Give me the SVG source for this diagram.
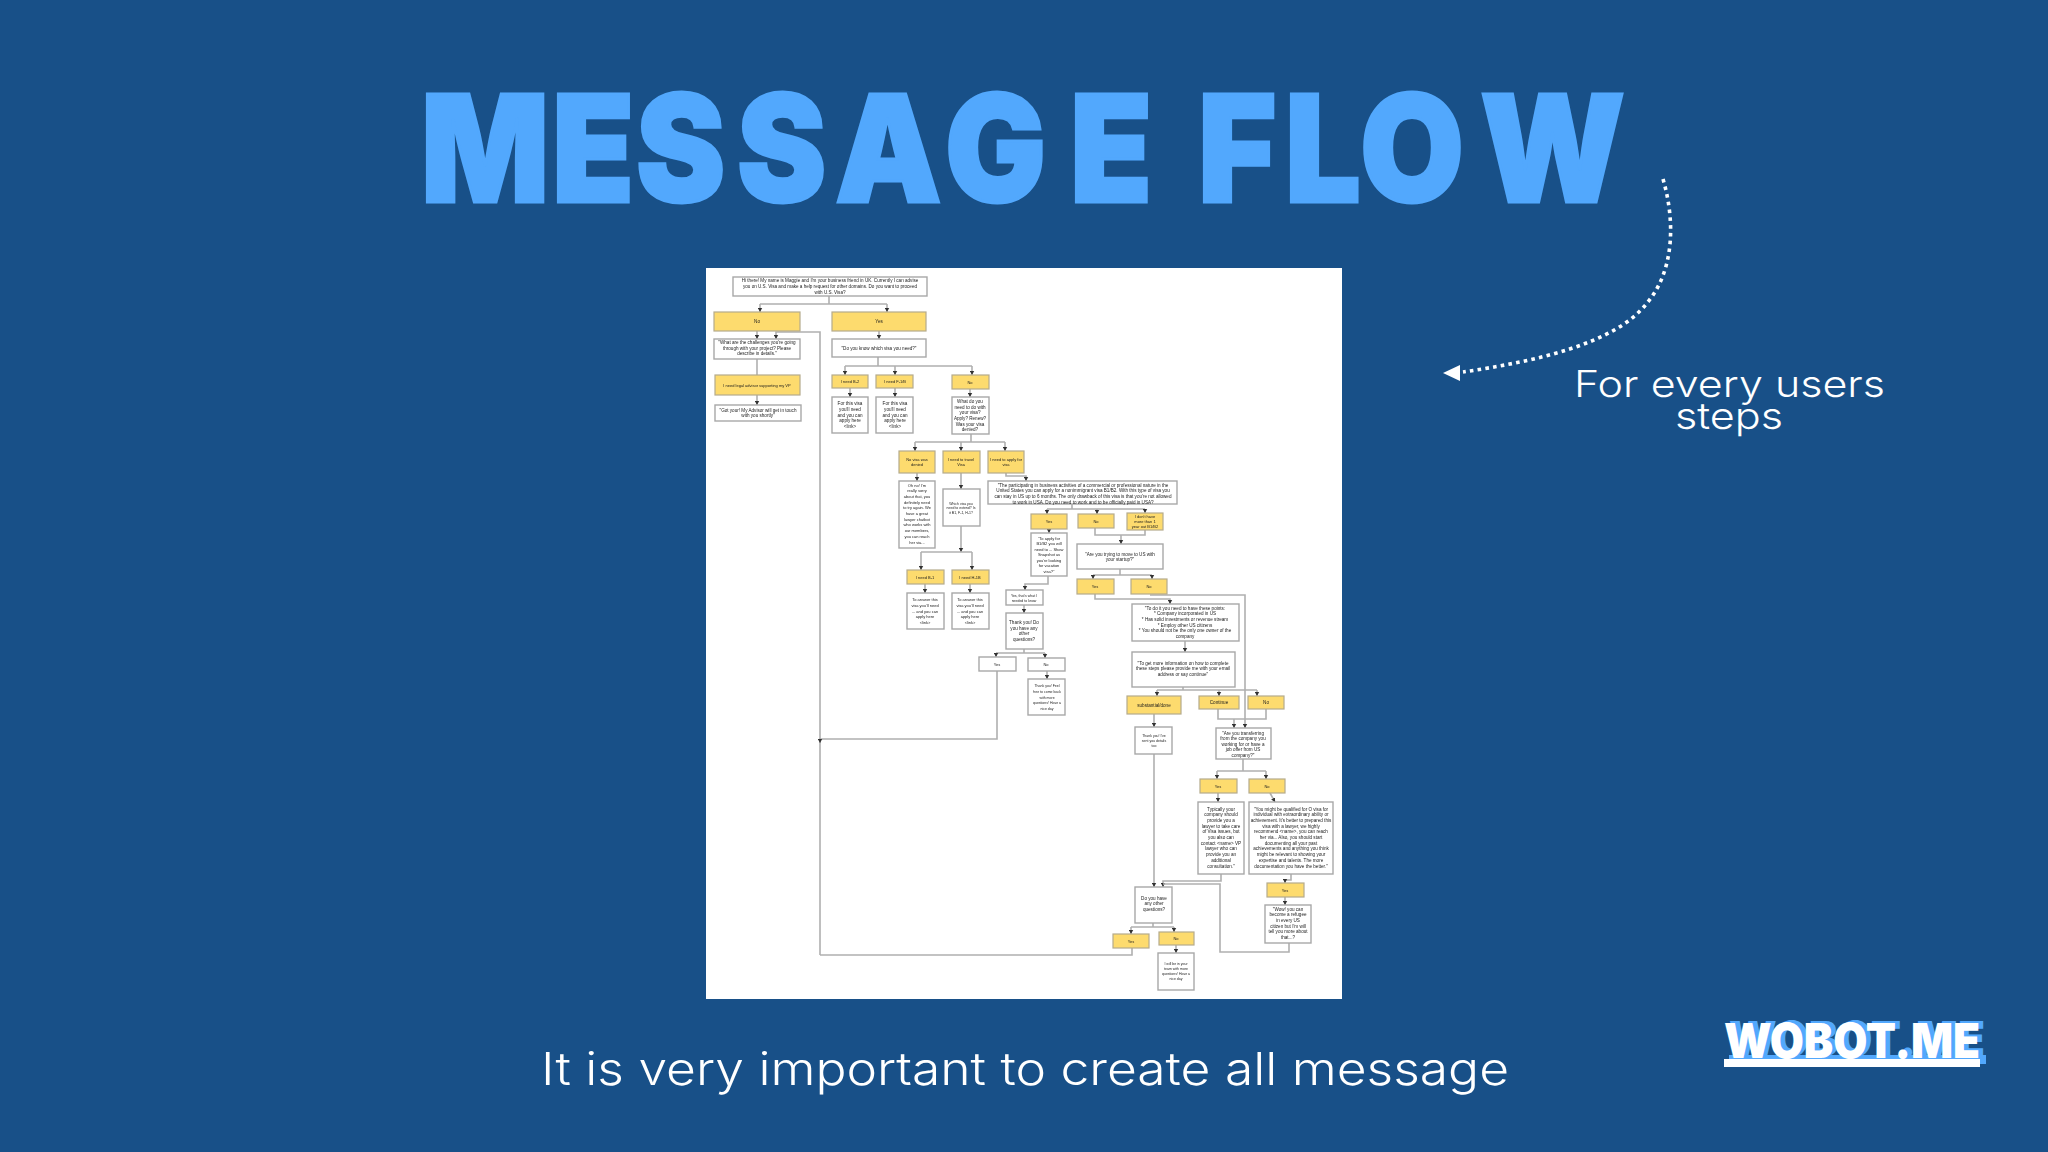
<svg xmlns="http://www.w3.org/2000/svg" width="2048" height="1152" viewBox="0 0 2048 1152">
<style>
.t{font-family:"Liberation Sans",Arial,sans-serif;font-size:4.6px;fill:#1c1c1c;text-anchor:middle}
.s{font-size:4px}
.box{fill:#fff;stroke:#a8a8a8;stroke-width:1.4}
.yel{fill:#fddb6e;stroke:#b5ab8c;stroke-width:1.2}
.c{fill:none;stroke:#b0b0b0;stroke-width:1.6}
.a{marker-end:url(#ah)}
.body{font-family:Inter,"Open Sans",sans-serif;font-weight:300;fill:#fff}
</style>
<defs>
<marker id="ah" markerUnits="userSpaceOnUse" markerWidth="5" markerHeight="5" refX="4" refY="2.5" orient="auto"><path d="M0 .3L4 2.5L0 4.7z" fill="#333"/></marker>
<filter id="soft" filterUnits="userSpaceOnUse" x="700" y="260" width="650" height="745"><feGaussianBlur stdDeviation="0.65"/></filter>
</defs>
<rect id="background" width="2048" height="1152" fill="#185088"/>
<text id="title" transform="scale(.9 1)" x="467.8 613.3 706.7 818.9 927.8 1050 1188.9 1311 1331 1427.8 1511 1644.4" y="202" font-family="Inter,Roboto,sans-serif" font-weight="900" font-size="149" fill="#52a8fd" stroke="#52a8fd" stroke-width="3">MESSAGE FLOW</text>
<rect id="panel" x="706" y="268" width="636" height="731" fill="#fff"/>
<g id="flowchart" filter="url(#soft)">
<g id="connectors">
<path class="c" d="M829 296V304M760 304H887"/><path class="c a" d="M760 304V312"/><path class="c a" d="M887 304V312"/>
<path class="c a" d="M757 331V339"/>
<path class="c a" d="M820 955V332H776V339"/>
<path class="c" d="M1132 948V955H820"/>
<path class="c a" d="M997 671V739H820V743"/>
<path class="c" d="M757 359V375"/><path class="c a" d="M757 395V405"/>
<path class="c a" d="M879 331V339"/>
<path class="c" d="M878 357V366M845 366H972"/><path class="c a" d="M845 366V375"/><path class="c a" d="M895 366V375"/><path class="c a" d="M972 366V375"/>
<path class="c a" d="M850 388V397"/><path class="c a" d="M895 388V397"/><path class="c a" d="M970 389V397"/>
<path class="c" d="M971 434V442M915 442H1005"/><path class="c a" d="M915 442V451"/><path class="c a" d="M961 442V451"/><path class="c a" d="M1005 442V451"/>
<path class="c a" d="M917 473V481"/><path class="c a" d="M961 473V489"/>
<path class="c a" d="M1006 473V476H1026V481"/>
<path class="c a" d="M961 526V552"/><path class="c" d="M921 552H972"/><path class="c a" d="M921 552V570"/><path class="c a" d="M972 552V570"/>
<path class="c a" d="M925 584V593"/><path class="c a" d="M970 584V593"/>
<path class="c" d="M1072 504V509M1047 509H1145"/><path class="c a" d="M1047 509V514"/><path class="c a" d="M1097 509V514"/><path class="c a" d="M1145 509V513"/>
<path class="c a" d="M1049 529V533"/>
<path class="c" d="M1095 528V535H1145V530"/><path class="c a" d="M1121 535V544"/>
<path class="c" d="M1120 569V575M1093 575H1152"/><path class="c a" d="M1093 575V579"/><path class="c a" d="M1152 575V579"/>
<path class="c a" d="M1048 576V584H1025V590"/>
<path class="c a" d="M1024 605V613"/>
<path class="c" d="M1024 649V653M996 653H1045"/><path class="c a" d="M996 653V657"/><path class="c a" d="M1045 653V658"/>
<path class="c a" d="M1047 671V679"/>
<path class="c a" d="M1095 594V599H1170V604"/>
<path class="c a" d="M1150 595H1245V728"/>
<path class="c a" d="M1185 641V652"/>
<path class="c" d="M1183 687V690M1157 690H1257"/><path class="c a" d="M1157 690V696"/><path class="c a" d="M1219 690V696"/><path class="c a" d="M1257 690V696"/>
<path class="c a" d="M1154 714V727"/>
<path class="c" d="M1218 709V719H1266V709"/><path class="c a" d="M1234 719V728"/>
<path class="c" d="M1243 759V771M1217 771H1266"/><path class="c a" d="M1217 771V779"/><path class="c a" d="M1266 771V779"/>
<path class="c a" d="M1218 793V802"/><path class="c a" d="M1270 793L1275 802"/>
<path class="c a" d="M1291 874V880H1285V883"/>
<path class="c a" d="M1285 897V905"/>
<path class="c a" d="M1154 754V887"/>
<path class="c a" d="M1221 874V881H1163V887"/>
<path class="c" d="M1163 884H1220V952H1289V943"/>
<path class="c" d="M1153 923V927M1131 927H1174"/><path class="c a" d="M1131 927V934"/><path class="c a" d="M1174 927V932"/>
<path class="c a" d="M1176 945V953"/>
</g>
<g id="n1"><rect class="box" x="733" y="277" width="194" height="19"/><text class="t" y="282.3"><tspan x="830">Hi there! My name is Maggie and I'm your business friend in UK. Currently I can advise</tspan><tspan x="830" dy="5.7">you on U.S. Visa and make a help request for other domains. Do you want to proceed</tspan><tspan x="830" dy="5.7">with U.S. Visa?</tspan></text></g>
<g id="n2"><rect class="yel" x="714" y="312" width="86" height="19"/><text class="t" x="757" y="323">No</text></g>
<g id="n3"><rect class="yel" x="832" y="312" width="94" height="19"/><text class="t" x="879" y="323">Yes</text></g>
<g id="n4"><rect class="box" x="714" y="339" width="86" height="20"/><text class="t" y="343.8"><tspan x="757">"What are the challenges you're going</tspan><tspan x="757" dy="5.7">through with your project? Please</tspan><tspan x="757" dy="5.7">describe in details."</tspan></text></g>
<g id="n5"><rect class="yel" x="715" y="375" width="85" height="20"/><text class="t s" x="757" y="386.5">I need legal advisor supporting my VP</text></g>
<g id="n6"><rect class="box" x="715" y="405" width="86" height="16"/><text class="t" y="411.7"><tspan x="758">"Got your! My Advisor will get in touch</tspan><tspan x="758" dy="5.7">with you shortly"</tspan></text></g>
<g id="n7"><rect class="box" x="832" y="339" width="94" height="18"/><text class="t" x="879" y="349.5">"Do you know which visa you need?"</text></g>
<g id="n8"><rect class="yel" x="832" y="375" width="36" height="13"/><text class="t s" x="850" y="383">I need B-2</text></g>
<g id="n9"><rect class="yel" x="876" y="375" width="37" height="13"/><text class="t s" x="895" y="383">I need F-1/B</text></g>
<g id="n10"><rect class="yel" x="952" y="375" width="37" height="14"/><text class="t s" x="970" y="383.5">No</text></g>
<g id="n11"><rect class="box" x="832" y="397" width="36" height="36"/><text class="t" y="405.1"><tspan x="850">For this visa</tspan><tspan x="850" dy="5.7">you'll need</tspan><tspan x="850" dy="5.7">and you can</tspan><tspan x="850" dy="5.7">apply here</tspan><tspan x="850" dy="5.7">&lt;link&gt;</tspan></text></g>
<g id="n12"><rect class="box" x="876" y="397" width="37" height="36"/><text class="t" y="405.1"><tspan x="895">For this visa</tspan><tspan x="895" dy="5.7">you'll need</tspan><tspan x="895" dy="5.7">and you can</tspan><tspan x="895" dy="5.7">apply here</tspan><tspan x="895" dy="5.7">&lt;link&gt;</tspan></text></g>
<g id="n13"><rect class="box" x="952" y="397" width="37" height="37"/><text class="t" y="402.8"><tspan x="970">What do you</tspan><tspan x="970" dy="5.7">need to do with</tspan><tspan x="970" dy="5.7">your visa?</tspan><tspan x="970" dy="5.7">Apply? Renew?</tspan><tspan x="970" dy="5.7">Was your visa</tspan><tspan x="970" dy="5.7">denied?</tspan></text></g>
<g id="n14"><rect class="yel" x="899" y="451" width="36" height="22"/><text class="t s" y="460.6"><tspan x="917">No visa was</tspan><tspan x="917" dy="5">denied</tspan></text></g>
<g id="n15"><rect class="yel" x="943" y="451" width="37" height="22"/><text class="t s" y="460.6"><tspan x="961">I need to travel</tspan><tspan x="961" dy="5">Visa</tspan></text></g>
<g id="n16"><rect class="yel" x="988" y="451" width="36" height="22"/><text class="t s" y="460.6"><tspan x="1006">I need to apply for</tspan><tspan x="1006" dy="5">visa</tspan></text></g>
<g id="n17"><rect class="box" x="899" y="481" width="36" height="67"/><text class="t s" y="486.5"><tspan x="917">Oh no! I'm</tspan><tspan x="917" dy="5.7">really sorry</tspan><tspan x="917" dy="5.7">about that, you</tspan><tspan x="917" dy="5.7">definitely need</tspan><tspan x="917" dy="5.7">to try again. We</tspan><tspan x="917" dy="5.7">have a great</tspan><tspan x="917" dy="5.7">lawyer chatbot</tspan><tspan x="917" dy="5.7">who works with</tspan><tspan x="917" dy="5.7">our members,</tspan><tspan x="917" dy="5.7">you can reach</tspan><tspan x="917" dy="5.7">her via...</tspan></text></g>
<g id="n18"><rect class="box" x="943" y="489" width="37" height="37"/><text class="t s" y="504.5" style="font-size:3.5px"><tspan x="961">Which visa you</tspan><tspan x="961" dy="4.5">need to extend? Is</tspan><tspan x="961" dy="4.5">it B1, F-1, H-1?</tspan></text></g>
<g id="n19"><rect class="box" x="988" y="481" width="189" height="23"/><text class="t" y="486.5"><tspan x="1083">"The participating in business activities of a commercial or professional nature in the</tspan><tspan x="1083" dy="5.7">United States you can apply for a nonimmigrant visa B1/B2. With this type of visa you</tspan><tspan x="1083" dy="5.7">can stay in US up to 6 months. The only drawback of this visa is that you're not allowed</tspan><tspan x="1083" dy="5.7">to work in USA. Do you need to work and to be officially paid in USA?</tspan></text></g>
<g id="n20"><rect class="yel" x="1031" y="514" width="36" height="15"/><text class="t s" x="1049" y="523">Yes</text></g>
<g id="n21"><rect class="yel" x="1078" y="514" width="36" height="14"/><text class="t s" x="1096" y="522.5">No</text></g>
<g id="n22"><rect class="yel" x="1127" y="513" width="36" height="17"/><text class="t s" y="517.5"><tspan x="1145">I don't have</tspan><tspan x="1145" dy="5">more than 1</tspan><tspan x="1145" dy="5">year out B1/B2</tspan></text></g>
<g id="n23"><rect class="box" x="1031" y="533" width="36" height="43"/><text class="t s" y="539.5"><tspan x="1049">"To apply for</tspan><tspan x="1049" dy="5.5">B1/B2 you will</tspan><tspan x="1049" dy="5.5">need to ... Show</tspan><tspan x="1049" dy="5.5">Snapshot as</tspan><tspan x="1049" dy="5.5">you're looking</tspan><tspan x="1049" dy="5.5">for vacation</tspan><tspan x="1049" dy="5.5">visa?"</tspan></text></g>
<g id="n24"><rect class="box" x="1077" y="544" width="86" height="25"/><text class="t" y="555.6"><tspan x="1120">"Are you trying to move to US with</tspan><tspan x="1120" dy="5.7">your startup?"</tspan></text></g>
<g id="n25"><rect class="yel" x="1077" y="579" width="37" height="15"/><text class="t s" x="1095" y="588">Yes</text></g>
<g id="n26"><rect class="yel" x="1131" y="579" width="36" height="15"/><text class="t s" x="1149" y="588">No</text></g>
<g id="n27"><rect class="yel" x="907" y="570" width="37" height="14"/><text class="t s" x="925" y="578.5">I need B-1</text></g>
<g id="n28"><rect class="yel" x="952" y="570" width="37" height="14"/><text class="t s" x="970" y="578.5">I need H-1B</text></g>
<g id="n29"><rect class="box" x="907" y="593" width="37" height="36"/><text class="t s" y="601.1"><tspan x="925">To answer this</tspan><tspan x="925" dy="5.7">visa you'll need</tspan><tspan x="925" dy="5.7">... and you can</tspan><tspan x="925" dy="5.7">apply here</tspan><tspan x="925" dy="5.7">&lt;link&gt;</tspan></text></g>
<g id="n30"><rect class="box" x="952" y="593" width="37" height="36"/><text class="t s" y="601.1"><tspan x="970">To answer this</tspan><tspan x="970" dy="5.7">visa you'll need</tspan><tspan x="970" dy="5.7">... and you can</tspan><tspan x="970" dy="5.7">apply here</tspan><tspan x="970" dy="5.7">&lt;link&gt;</tspan></text></g>
<g id="n31"><rect class="box" x="1006" y="590" width="37" height="15"/><text class="t s" y="596.6" style="font-size:3.5px"><tspan x="1024">Yes, that's what I</tspan><tspan x="1024" dy="5">needed to know</tspan></text></g>
<g id="n32"><rect class="box" x="1006" y="613" width="37" height="36"/><text class="t" y="624"><tspan x="1024">Thank you! Do</tspan><tspan x="1024" dy="5.7">you have any</tspan><tspan x="1024" dy="5.7">other</tspan><tspan x="1024" dy="5.7">questions?</tspan></text></g>
<g id="n33"><rect class="box" x="979" y="657" width="37" height="14"/><text class="t s" x="997" y="665.5">Yes</text></g>
<g id="n34"><rect class="box" x="1028" y="658" width="37" height="13"/><text class="t s" x="1046" y="666">No</text></g>
<g id="n35"><rect class="box" x="1028" y="679" width="37" height="36"/><text class="t s" y="687.1" style="font-size:3.5px"><tspan x="1047">Thank you! Feel</tspan><tspan x="1047" dy="5.7">free to come back</tspan><tspan x="1047" dy="5.7">with more</tspan><tspan x="1047" dy="5.7">questions! Have a</tspan><tspan x="1047" dy="5.7">nice day</tspan></text></g>
<g id="n36"><rect class="box" x="1132" y="604" width="107" height="37"/><text class="t" y="609.5"><tspan x="1185">"To do it you need to have these points:</tspan><tspan x="1185" dy="5.7">* Company incorporated in US</tspan><tspan x="1185" dy="5.7">* Has solid investments or revenue stream</tspan><tspan x="1185" dy="5.7">* Employ other US citizens</tspan><tspan x="1185" dy="5.7">* You should not be the only one owner of the</tspan><tspan x="1185" dy="5.7">company</tspan></text></g>
<g id="n37"><rect class="box" x="1132" y="652" width="103" height="35"/><text class="t" y="664.5"><tspan x="1183">"To get more information on how to complete</tspan><tspan x="1183" dy="5.7">these steps please provide me with your email</tspan><tspan x="1183" dy="5.7">address or say continue"</tspan></text></g>
<g id="n38"><rect class="yel" x="1127" y="696" width="54" height="18"/><text class="t" x="1154" y="706.5">substantial/done</text></g>
<g id="n39"><rect class="yel" x="1199" y="696" width="40" height="13"/><text class="t" x="1219" y="704">Continue</text></g>
<g id="n40"><rect class="yel" x="1248" y="696" width="36" height="13"/><text class="t" x="1266" y="704">No</text></g>
<g id="n41"><rect class="box" x="1135" y="727" width="37" height="27"/><text class="t s" y="736.5" style="font-size:3.5px"><tspan x="1154">Thank you! I've</tspan><tspan x="1154" dy="5">sent you details</tspan><tspan x="1154" dy="5">too</tspan></text></g>
<g id="n42"><rect class="box" x="1216" y="728" width="55" height="31"/><text class="t" y="734.5"><tspan x="1243">"Are you transferring</tspan><tspan x="1243" dy="5.5">from the company you</tspan><tspan x="1243" dy="5.5">working for or have a</tspan><tspan x="1243" dy="5.5">job offer from US</tspan><tspan x="1243" dy="5.5">company?"</tspan></text></g>
<g id="n43"><rect class="yel" x="1200" y="779" width="37" height="14"/><text class="t s" x="1218" y="787.5">Yes</text></g>
<g id="n44"><rect class="yel" x="1249" y="779" width="36" height="14"/><text class="t s" x="1267" y="787.5">No</text></g>
<g id="n45"><rect class="box" x="1198" y="802" width="46" height="72"/><text class="t" y="810.5"><tspan x="1221">Typically your</tspan><tspan x="1221" dy="5.7">company should</tspan><tspan x="1221" dy="5.7">provide you a</tspan><tspan x="1221" dy="5.7">lawyer to take care</tspan><tspan x="1221" dy="5.7">of Visa issues, but</tspan><tspan x="1221" dy="5.7">you also can</tspan><tspan x="1221" dy="5.7">contact &lt;name&gt; VP</tspan><tspan x="1221" dy="5.7">lawyer who can</tspan><tspan x="1221" dy="5.7">provide you an</tspan><tspan x="1221" dy="5.7">additional</tspan><tspan x="1221" dy="5.7">consultation."</tspan></text></g>
<g id="n46"><rect class="box" x="1249" y="802" width="84" height="72"/><text class="t" y="810.5"><tspan x="1291">"You might be qualified for O visa for</tspan><tspan x="1291" dy="5.7">individual with extraordinary ability or</tspan><tspan x="1291" dy="5.7">achievement. It's better to prepared this</tspan><tspan x="1291" dy="5.7">visa with a lawyer, we highly</tspan><tspan x="1291" dy="5.7">recommend &lt;name&gt;, you can reach</tspan><tspan x="1291" dy="5.7">her via... Also, you should start</tspan><tspan x="1291" dy="5.7">documenting all your past</tspan><tspan x="1291" dy="5.7">achievements and anything you think</tspan><tspan x="1291" dy="5.7">might be relevant to showing your</tspan><tspan x="1291" dy="5.7">expertise and talents. The more</tspan><tspan x="1291" dy="5.7">documentation you have the better."</tspan></text></g>
<g id="n47"><rect class="yel" x="1267" y="883" width="37" height="14"/><text class="t s" x="1285" y="891.5">Yes</text></g>
<g id="n48"><rect class="box" x="1265" y="905" width="46" height="38"/><text class="t" y="910.5"><tspan x="1288">"Wow! you can</tspan><tspan x="1288" dy="5.7">become a refugee</tspan><tspan x="1288" dy="5.7">in every US</tspan><tspan x="1288" dy="5.7">citizen but I'm will</tspan><tspan x="1288" dy="5.7">tell you more about</tspan><tspan x="1288" dy="5.7">that...?</tspan></text></g>
<g id="n49"><rect class="box" x="1135" y="887" width="37" height="36"/><text class="t" y="899.5"><tspan x="1154">Do you have</tspan><tspan x="1154" dy="5.7">any other</tspan><tspan x="1154" dy="5.7">questions?</tspan></text></g>
<g id="n50"><rect class="yel" x="1113" y="934" width="36" height="14"/><text class="t s" x="1131" y="942.5">Yes</text></g>
<g id="n51"><rect class="yel" x="1159" y="932" width="35" height="13"/><text class="t s" x="1176" y="940">No</text></g>
<g id="n52"><rect class="box" x="1158" y="953" width="36" height="37"/><text class="t s" y="964.5" style="font-size:3.5px"><tspan x="1176">I will be in your</tspan><tspan x="1176" dy="5">team with more</tspan><tspan x="1176" dy="5">questions! Have a</tspan><tspan x="1176" dy="5">nice day</tspan></text></g>
</g>
<g id="callout">
<path d="M1663 179C1675 220 1675 270 1647 303C1615 345 1530 362 1463 372" fill="none" stroke="#fff" stroke-width="3.6" stroke-dasharray="3.6 4.2"/>
<path d="M1443 373L1460 365V381z" fill="#fff"/>
<text class="body" x="1574" y="397" font-size="37" textLength="311" lengthAdjust="spacingAndGlyphs">For every users</text>
<text class="body" x="1675" y="429" font-size="37" textLength="108" lengthAdjust="spacingAndGlyphs">steps</text>
</g>
<text id="caption" class="body" x="541" y="1085" font-size="45" textLength="968" lengthAdjust="spacingAndGlyphs">It is very important to create all message</text>
<g id="logo" font-family="Inter,Roboto,sans-serif" font-weight="900" font-size="48">
<text x="1729" y="1056" textLength="256" lengthAdjust="spacingAndGlyphs" fill="#52a8fd">WOBOT.ME</text>
<rect x="1729" y="1055" width="257" height="9" fill="#52a8fd"/>
<text x="1724" y="1058" textLength="256" lengthAdjust="spacingAndGlyphs" fill="#fff">WOBOT.ME</text>
<rect x="1724" y="1059" width="256" height="8" fill="#fff"/>
</g>
</svg>
